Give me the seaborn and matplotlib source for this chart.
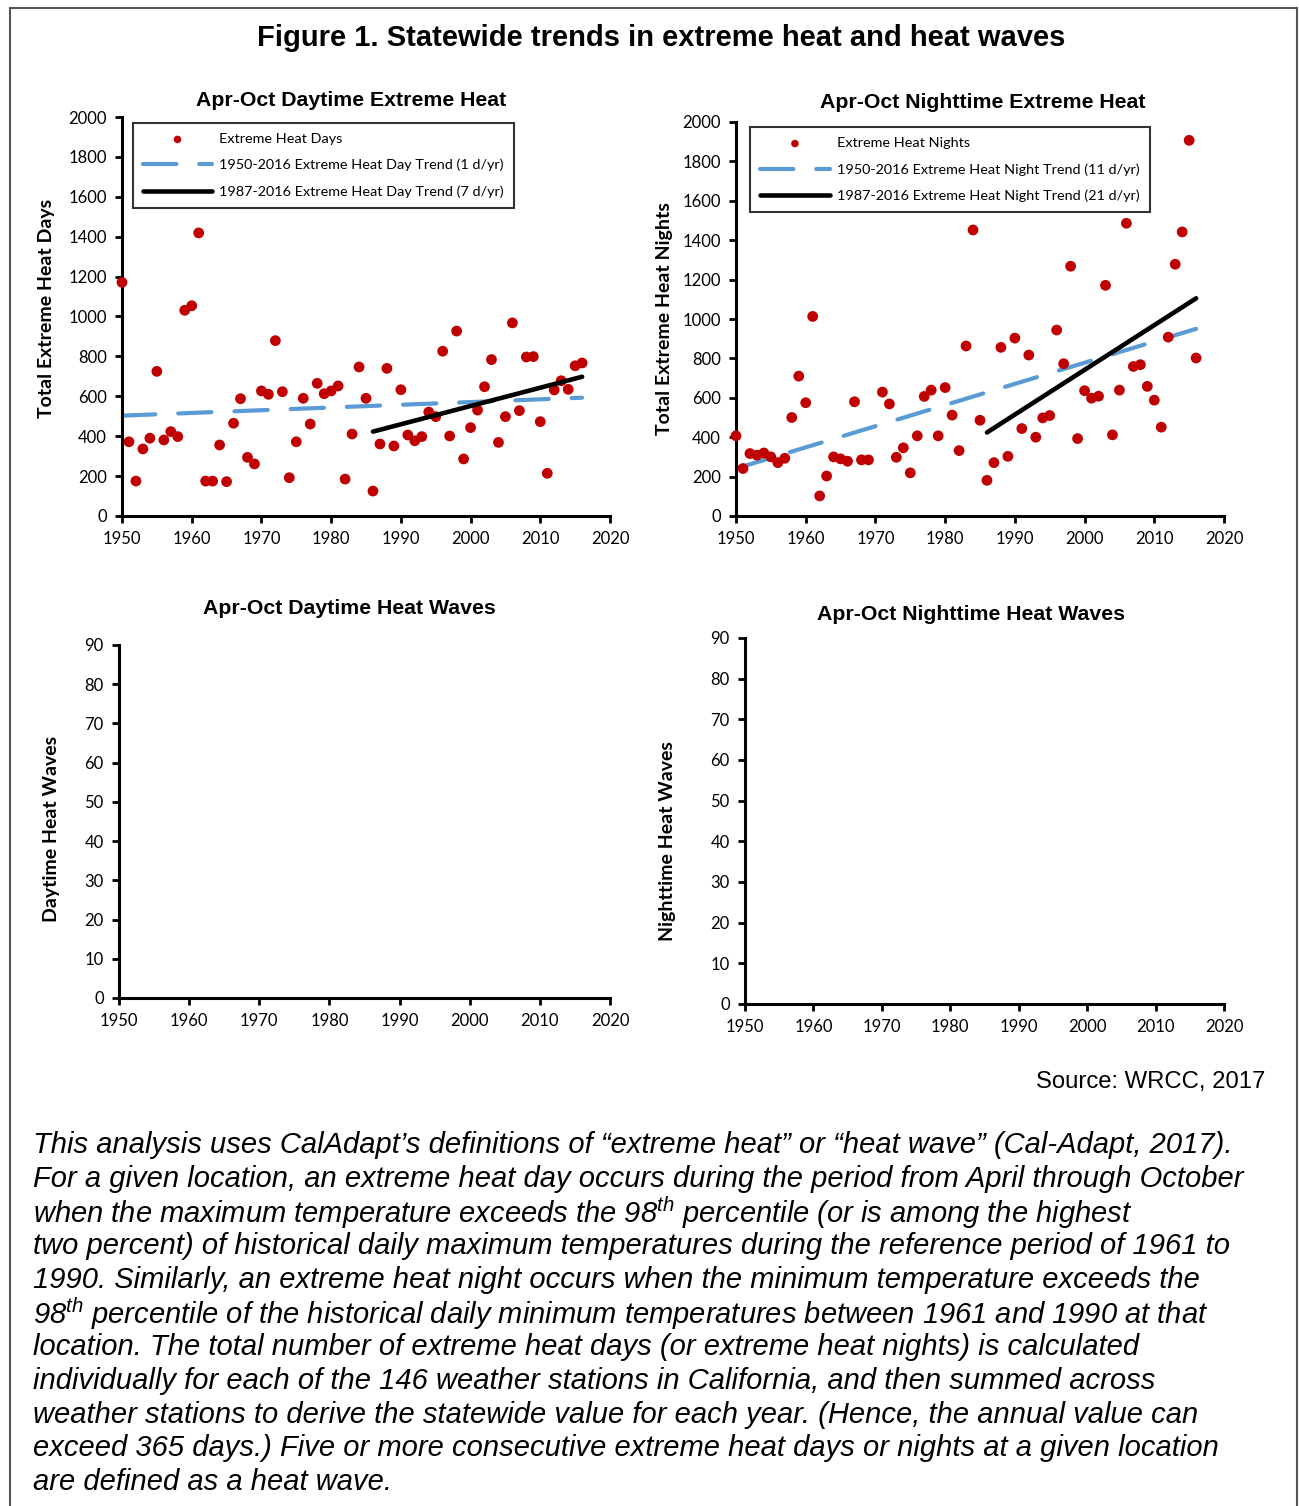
import numpy as np
import pandas as pd
import matplotlib
matplotlib.use('Agg')
import matplotlib.pyplot as plt
import matplotlib.patches as patches
import seaborn as sns

# data
years = list(range(1950, 2017))
heat_days = [1171, 372, 175, 336, 390, 725, 381, 423, 398, 1031,
             1054, 1419, 175, 175, 356, 172, 465, 588, 294, 261,
             627, 610, 879, 623, 192, 372, 590, 461, 665, 613,
             627, 652, 185, 411, 747, 590, 125, 361, 740, 351,
             633, 406, 377, 398, 521, 498, 826, 401, 927, 286,
             443, 531, 648, 784, 369, 498, 968, 528, 797, 799,
             473, 214, 632, 678, 635, 753, 767]
heat_nights = [407, 241, 317, 309, 320, 300, 271, 293, 500, 710,
               575, 1013, 102, 203, 300, 290, 278, 580, 285, 285,
               np.nan, 629, 569, 298, 346, 219, 407, 607, 639, 407,
               652, 512, 332, 863, 1452, 486, 181, 271, 856, 303,
               903, 444, 817, 400, 498, 510, 944, 773, 1268, 393,
               636, 598, 608, 1171, 412, 639, 1486, 759, 768, 658,
               588, 451, 908, 1278, 1442, 1907, 802]

# trend line end points
long_trend_years = [1950, 2016]
day_long_trend = [503, 593]
night_long_trend = [241, 950]
recent_trend_years = [1986, 2016]
day_recent_trend = [423, 698]
night_recent_trend = [424, 1105]

day_labels = ['Extreme Heat Days',
              '1950-2016 Extreme Heat Day Trend (1 d/yr)',
              '1987-2016 Extreme Heat Day Trend (7 d/yr)']
night_labels = ['Extreme Heat Nights',
                '1950-2016 Extreme Heat Night Trend (11 d/yr)',
                '1987-2016 Extreme Heat Night Trend (21 d/yr)']

text_lines = [
    "This analysis uses CalAdapt\u2019s definitions of \u201cextreme heat\u201d or \u201cheat wave\u201d (Cal-Adapt, 2017).",
    "For a given location, an extreme heat day occurs during the period from April through October",
    "when the maximum temperature exceeds the 98$^{th}$ percentile (or is among the highest",
    "two percent) of historical daily maximum temperatures during the reference period of 1961 to",
    "1990. Similarly, an extreme heat night occurs when the minimum temperature exceeds the",
    "98$^{th}$ percentile of the historical daily minimum temperatures between 1961 and 1990 at that",
    "location. The total number of extreme heat days (or extreme heat nights) is calculated",
    "individually for each of the 146 weather stations in California, and then summed across",
    "weather stations to derive the statewide value for each year. (Hence, the annual value can",
    "exceed 365 days.) Five or more consecutive extreme heat days or nights at a given location",
    "are defined as a heat wave.",
]

df = pd.DataFrame({'Year': years, 'Days': heat_days, 'Nights': heat_nights})

sns.set_theme(style='white')
plt.rcParams['font.family'] = ['Lato', 'DejaVu Sans']
plt.rcParams['text.color'] = 'black'
plt.rcParams['axes.labelcolor'] = 'black'
plt.rcParams['xtick.color'] = 'black'
plt.rcParams['ytick.color'] = 'black'
plt.rcParams['mathtext.fontset'] = 'custom'
plt.rcParams['mathtext.rm'] = 'Liberation Sans:italic'
plt.rcParams['mathtext.it'] = 'Liberation Sans:italic'

RED = '#C00000'
BLUE = '#5B9BD5'
W, H = 1299, 1506

fig = plt.figure(figsize=(W / 100, H / 100), dpi=100)
fig.patch.set_facecolor('white')


def px_axes(left, top, right, bottom):
    return fig.add_axes([left / W, 1 - bottom / H, (right - left) / W, (bottom - top) / H])


def style_axes(ax, ymax, ystep):
    ax.set_xlim(1950, 2020)
    ax.set_ylim(0, ymax)
    ax.set_xticks(range(1950, 2021, 10))
    ax.set_yticks(range(0, ymax + 1, ystep))
    for s in ['top', 'right']:
        ax.spines[s].set_visible(False)
    for s in ['left', 'bottom']:
        ax.spines[s].set_linewidth(2.2)
        ax.spines[s].set_color('black')
    ax.tick_params(axis='both', direction='out', length=5, width=2, color='black',
                   labelsize=12, pad=6, left=True, bottom=True)
    ax.set_xlabel('')
    ax.set_facecolor('white')


def scatter_panel(ax, col, long_y, recent_y, labels, anchor):
    sns.scatterplot(data=df, x='Year', y=col, ax=ax, color=RED, s=60,
                    edgecolor='none', clip_on=False, zorder=3, label=labels[0])
    sns.lineplot(x=long_trend_years, y=long_y, ax=ax, color=BLUE, lw=3.0,
                 label=labels[1], zorder=2)
    ln = ax.lines[-1]
    ln.set_dashes((8.0, 5.5))
    ln.set_dash_capstyle('round')
    sns.lineplot(x=recent_trend_years, y=recent_y, ax=ax, color='black', lw=3.3,
                 label=labels[2], zorder=4)
    ax.lines[-1].set_solid_capstyle('round')
    leg = ax.legend(loc='upper left', bbox_to_anchor=anchor, fontsize=10.4,
                    handlelength=4.8, handletextpad=0.5, labelspacing=0.95,
                    borderpad=0.7, markerscale=0.7, frameon=True, fancybox=False,
                    borderaxespad=0)
    leg.get_frame().set_edgecolor('black')
    leg.get_frame().set_linewidth(1.5)


ax1 = px_axes(122, 117, 610, 516)
scatter_panel(ax1, 'Days', day_long_trend, day_recent_trend, day_labels, (0.022, 0.985))
style_axes(ax1, 2000, 200)
ax1.set_ylabel('Total Extreme Heat Days', fontsize=14, weight='bold')
ax1.yaxis.set_label_coords(-0.138, 0.52)

ax2 = px_axes(736, 122, 1224, 516)
scatter_panel(ax2, 'Nights', night_long_trend, night_recent_trend, night_labels, (0.029, 0.987))
style_axes(ax2, 2000, 200)
ax2.set_ylabel('Total Extreme Heat Nights', fontsize=14, weight='bold')
ax2.yaxis.set_label_coords(-0.13, 0.5)

ax3 = px_axes(119, 645, 610, 998)
style_axes(ax3, 90, 10)
ax3.set_ylabel('Daytime Heat Waves', fontsize=14, weight='bold')
ax3.yaxis.set_label_coords(-0.12, 0.48)

ax4 = px_axes(745, 638, 1224, 1004)
style_axes(ax4, 90, 10)
ax4.set_ylabel('Nighttime Heat Waves', fontsize=14, weight='bold')
ax4.yaxis.set_label_coords(-0.145, 0.445)

# titles
title_kw = dict(ha='center', va='center', weight='bold', family='Liberation Sans')
fig.text(661 / W, 1 - 38 / H, 'Figure 1. Statewide trends in extreme heat and heat waves',
         fontsize=21, **title_kw)
fig.text(351 / W, 1 - 101 / H, 'Apr-Oct Daytime Extreme Heat', fontsize=15.3, **title_kw)
fig.text(983 / W, 1 - 103 / H, 'Apr-Oct Nighttime Extreme Heat', fontsize=15.3, **title_kw)
fig.text(349 / W, 1 - 609 / H, 'Apr-Oct Daytime Heat Waves', fontsize=15.3, **title_kw)
fig.text(971 / W, 1 - 614 / H, 'Apr-Oct Nighttime Heat Waves', fontsize=15.3, **title_kw)

fig.text(1265 / W, 1 - 1082 / H, 'Source: WRCC, 2017', ha='right', va='center',
         fontsize=17.2, family='Liberation Sans')

for i, line in enumerate(text_lines):
    y = 1145 + i * 33.7
    fig.text(33 / W, 1 - y / H, line, ha='left', va='center', fontsize=21,
             family='Liberation Sans', style='italic')

# outer frame
frame = patches.Rectangle((10 / W, -0.01), (1297 - 10) / W, (H - 8) / H + 0.01,
                          transform=fig.transFigure, fill=False,
                          edgecolor='#555555', lw=1.5)
fig.patches.append(frame)

plt.savefig('out.png', dpi=100)
